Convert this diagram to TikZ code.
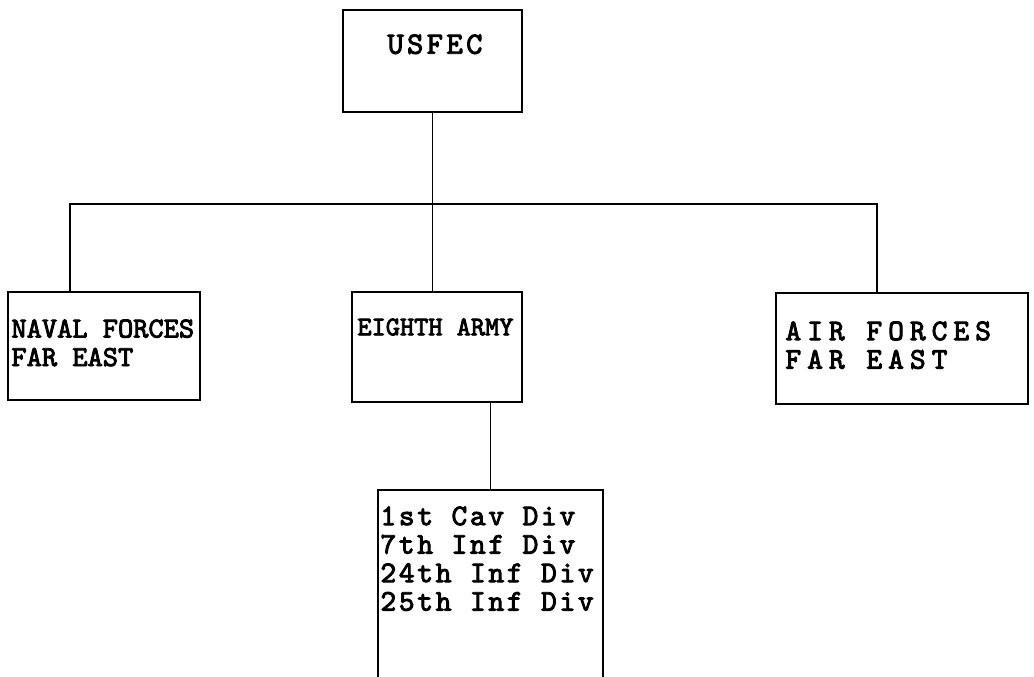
\documentclass[tikz,border=0pt]{standalone}
\usepackage{fontspec}
\newfontfamily\typefont{lmmono10-regular.otf}[FakeBold=3]
\usepackage{tikz}
\usetikzlibrary{positioning,calc}
\tikzset{
  unitbox/.style={draw=black, line width=1.5pt, inner sep=0pt, fill=white},
  unitlbl/.style 2 args={anchor=north west, inner sep=0pt, align=left, font=\typefont\fontsize{#1}{28.5}\selectfont\addfontfeature{LetterSpace=#2}},
  link/.style={draw=black, line width=1.4pt},
}

\begin{document}
\begin{tikzpicture}[x=1pt,y=-1pt]
    \useasboundingbox (0,0) rectangle (1034,677);
    \node[unitbox, minimum width=179pt, minimum height=102pt, label={[unitlbl={31}{11}, xshift=45pt, yshift=-25pt]north west:USFEC}] (usfec) at (432.5,61) {};
    \node[unitbox, minimum width=192pt, minimum height=108pt, label={[unitlbl={29}{0}, xshift=4pt, yshift=-28pt]north west:NAVAL FORCES\\FAR EAST}] (naval) at (104,346) {};
    \node[unitbox, minimum width=170pt, minimum height=110pt, label={[unitlbl={27}{0}, xshift=6pt, yshift=-27pt]north west:EIGHTH ARMY}] (eighth) at (437,347) {};
    \node[unitbox, minimum width=252pt, minimum height=111pt, label={[unitlbl={30}{20}, xshift=10pt, yshift=-29pt]north west:AIR FORCES\\FAR EAST}] (air) at (902,348.5) {};
    \node[unitbox, minimum width=225pt, minimum height=200pt, label={[unitlbl={30}{9}, xshift=3pt, yshift=-17pt]north west:1st Cav Div\\7th Inf Div\\24th Inf Div\\25th Inf Div}] (divs) at (490.5,590) {};
    % bus line
    \coordinate (busl) at (70,204);
    \coordinate (busr) at (877,204);
    \draw[link] (usfec.south) -- (usfec.south |- eighth.north);
    \draw[link] (naval.north -| busl) -- (busl) -- (busr) -- (air.north -| busr);
    \draw[link] (eighth.south -| divs.north) -- (divs.north);
  \end{tikzpicture}
\end{document}
